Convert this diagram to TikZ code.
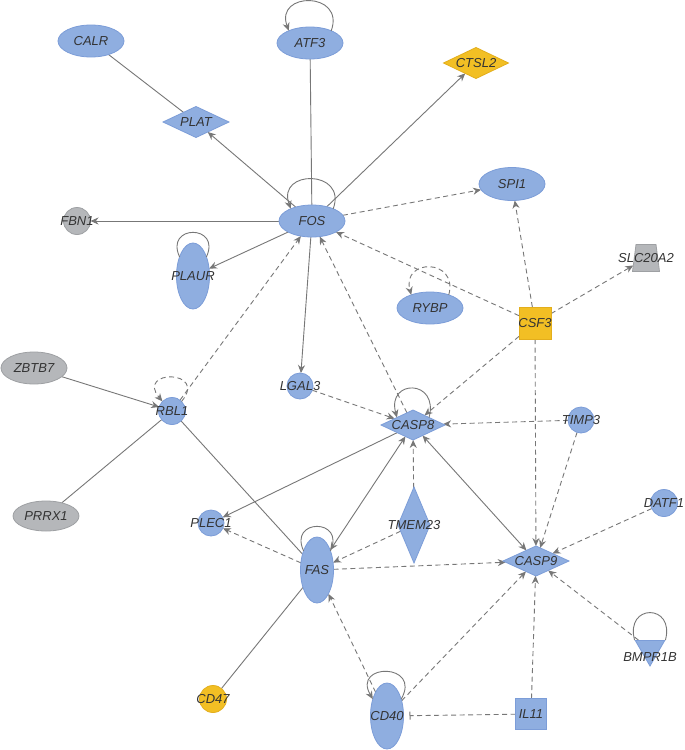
\documentclass[tikz,border=0pt]{standalone}
\usepackage{fontspec}
\setmainfont{Liberation Sans}
\usetikzlibrary{shapes.geometric,arrows.meta,backgrounds}
\definecolor{bfill}{HTML}{8FAEE0}
\definecolor{bdraw}{HTML}{7C9DD8}
\definecolor{gfill}{HTML}{B5B7BA}
\definecolor{gdraw}{HTML}{9EA0A3}
\definecolor{yfill}{HTML}{F2BF24}
\definecolor{ydraw}{HTML}{E3AE1C}
\definecolor{edgec}{HTML}{777777}
\definecolor{txt}{HTML}{333333}
\begin{document}
\begin{tikzpicture}[x=1pt,y=1pt,
  every label/.style={font=\fontsize{13}{15}\selectfont\itshape, text=txt, inner sep=0pt},
  base/.style={inner sep=0pt, outer sep=0pt, line width=0.8pt, label=center:#1},
  blue/.style={base=#1, fill=bfill, draw=bdraw},
  gray/.style={base=#1, fill=gfill, draw=gdraw},
  yel/.style={base=#1, fill=yfill, draw=ydraw},
  ell/.style={ellipse, minimum width=66pt, minimum height=32pt},
  tall/.style={ellipse, minimum width=33pt, minimum height=66pt},
  dia/.style={diamond, minimum width=66pt, minimum height=31pt},
  circ/.style={circle, minimum size=27pt},
  sq/.style={rectangle, minimum size=31pt},
  sol/.style={draw=edgec, line width=0.9pt},
  dsh/.style={sol, dash pattern=on 5pt off 3.5pt},
  tip/.tip={Stealth[length=8pt,width=7pt]},
  arr/.style={-tip},
  inh/.style={-{Bar[width=8pt,line width=1pt]}, shorten >=6pt}
]
\begin{scope}[on background layer]
\fill[white] (0,0) rectangle (685,-750);
\end{scope}
\useasboundingbox (0,0) rectangle (685,-750);

% nodes
\node[blue=CALR, ell] (CALR) at (91,-41) {};
\node[blue=ATF3, ell] (ATF3) at (310,-43) {};
\node[yel=CTSL2, dia, minimum width=65pt] (CTSL2) at (476,-63) {};
\node[blue=PLAT, dia] (PLAT) at (196,-122) {};
\node[blue=FOS, ell] (FOS) at (312,-221) {};
\node[gray=FBN1, circ] (FBN1) at (77,-221) {};
\node[blue=SPI1, ell, minimum height=33pt] (SPI1) at (512,-184) {};
\node[blue=PLAUR, tall] (PLAUR) at (193,-276) {};
\node[blue=RYBP, ell] (RYBP) at (430,-308) {};
\node[gray=SLC20A2, inner sep=2pt, trapezium, trapezium left angle=80, trapezium right angle=80,
      trapezium stretches=true, minimum width=27pt, minimum height=27pt] (SLC20A2) at (646,-258) {};
\node[yel=CSF3, sq, minimum size=32pt] (CSF3) at (535,-323) {};
\node[gray=ZBTB7, ell] (ZBTB7) at (34,-368) {};
\node[blue=RBL1, circ] (RBL1) at (172,-411) {};
\node[blue=LGAL3, circ, minimum size=26pt] (LGAL3) at (300,-386) {};
\node[blue=CASP8, dia, minimum width=64pt, minimum height=30pt] (CASP8) at (413,-425) {};
\node[blue=TIMP3, circ, minimum size=26pt] (TIMP3) at (581,-420) {};
\node[blue=PLEC1, circ, minimum size=26pt] (PLEC1) at (211,-523) {};
\node[blue=FAS, tall] (FAS) at (317,-570) {};
\node[blue=TMEM23, diamond, minimum width=32pt, minimum height=76pt] (TMEM23) at (414,-525) {};
\node[blue=CASP9, dia, minimum height=30pt] (CASP9) at (536,-561) {};
\node[blue=DATF1, circ] (DATF1) at (664,-503) {};
\node[fill=bfill, draw=bdraw, line width=0.8pt, inner sep=0pt, regular polygon, regular polygon sides=3,
      shape border rotate=180, minimum size=34pt,
      label={[yshift=-8pt]center:BMPR1B}] (BMPR1B) at (650,-649) {};
\node[yel=CD47, circ] (CD47) at (213,-699) {};
\node[blue=CD40, tall] (CD40) at (387,-716) {};
\node[blue=IL11, sq] (IL11) at (531,-714) {};
\node[gray=PRRX1, ell, minimum height=30pt] (PRRX1) at (46,-516) {};

\begin{scope}[on background layer]
% solid edges
\draw[sol] (CALR) -- (PLAT);
\draw[sol,arr] (FOS) -- (PLAT);
\draw[sol] (ATF3) -- (FOS);
\draw[sol,arr] (FOS) -- (CTSL2);
\draw[sol,arr] (FOS) -- (FBN1);
\draw[sol,arr] (FOS) -- (PLAUR);
\draw[sol,arr] (FOS) -- (LGAL3);
\draw[sol,arr] (ZBTB7) -- (RBL1);
\draw[sol] (RBL1) -- (PRRX1);
\draw[sol] (RBL1) -- (FAS);
\draw[sol,arr] (CASP8) -- (PLEC1);
\draw[sol,tip-tip] (CASP8) -- (FAS);
\draw[sol,tip-tip] (CASP8) -- (CASP9);
\draw[sol] (FAS) -- (CD47);
% dashed edges
\draw[dsh,arr] (FOS) -- (SPI1);
\draw[dsh,arr] (CSF3) -- (SPI1);
\draw[dsh,arr] (CSF3) -- (FOS);
\draw[dsh,arr] (CSF3) -- (SLC20A2);
\draw[dsh,arr] (CSF3) -- (CASP8);
\draw[dsh,arr] (CSF3) -- (CASP9);
\draw[dsh,arr] (TIMP3) -- (CASP8);
\draw[dsh,arr] (TIMP3) -- (CASP9);
\draw[dsh,arr] (RBL1) -- (FOS);
\draw[dsh,arr] (CASP8) -- (FOS);
\draw[dsh,arr] (LGAL3) -- (CASP8);
\draw[dsh,arr] (TMEM23) -- (CASP8);
\draw[dsh,arr] (FAS) -- (PLEC1);
\draw[dsh,arr] (TMEM23) -- (FAS);
\draw[dsh,arr] (FAS) -- (CASP9);
\draw[dsh,arr] (CD40) -- (FAS);
\draw[dsh,arr] (CD40) -- (CASP9);
\draw[dsh,inh] (IL11) -- (CD40);
\draw[dsh,arr] (IL11) -- (CASP9);
\draw[dsh,arr] (DATF1) -- (CASP9);
\draw[dsh,arr] (BMPR1B) -- (CASP9);
\end{scope}
% self loops
\draw[sol,arr] (ATF3.30) .. controls +(70:42) and +(110:42) .. (ATF3.150);
\draw[sol,arr] (FOS.30) .. controls +(70:42) and +(110:42) .. (FOS.150);
\draw[sol] (PLAUR.55) .. controls +(65:36) and +(115:36) .. (PLAUR.125);
\draw[dsh,arr] (RYBP.35) .. controls +(75:38) and +(105:38) .. (RYBP.145);
\draw[dsh,arr] (RBL1.45) .. controls +(50:42) and +(130:42) .. (RBL1.135);
\draw[sol,arr] (CASP8.25) .. controls +(75:40) and +(105:40) .. (CASP8.155);
\draw[sol] (FAS.55) .. controls +(65:36) and +(115:36) .. (FAS.125);
\draw[sol,arr] (CD40.50) .. controls +(60:42) and +(120:42) .. (CD40.130);
\draw[sol] (BMPR1B.corner 2) .. controls +(75:38) and +(105:38) .. (BMPR1B.corner 3);
\end{tikzpicture}
\end{document}
